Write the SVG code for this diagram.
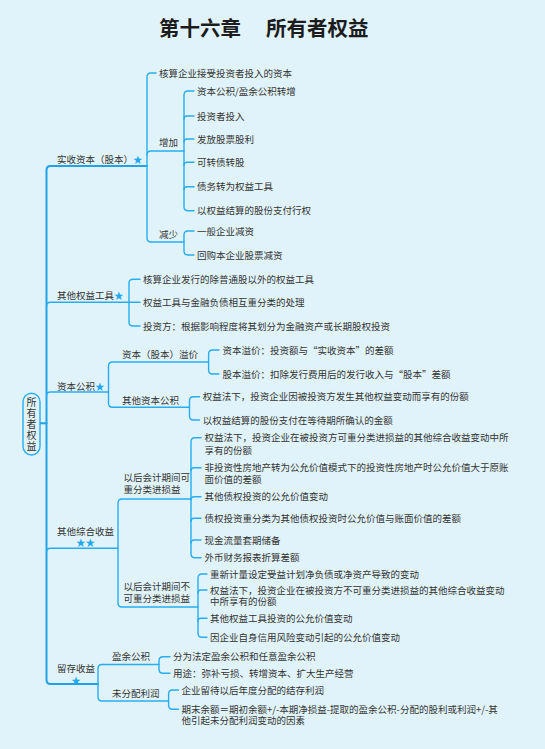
<svg xmlns="http://www.w3.org/2000/svg" width="545" height="749" viewBox="0 0 545 749">
<style>
text{font-family:"Noto Sans CJK SC","Noto Sans CJK JP",sans-serif;font-size:9.5px;fill:#333;}
.title{font-size:20.5px;font-weight:bold;fill:#1c1c1c;}
.star{fill:#1ea8ee;}
.root{font-size:10px;writing-mode:vertical-rl;letter-spacing:1px;}
.ln{fill:none;stroke:#27adf0;stroke-width:1.4;stroke-linecap:round;stroke-linejoin:round;}
.trunk{fill:none;stroke:#1fa3e8;stroke-width:2;stroke-linecap:round;}
</style>
<rect x="0" y="0" width="545" height="749" fill="#e1f3fa"/>

<g id="title">
<text class="title" x="159" y="36">第十六章</text>
<text class="title" x="266" y="36">所有者权益</text>
</g>

<g id="connectors">
<path class="trunk" d="M147,166 L50.5,166 Q46.5,166 46.5,170 L46.5,680 Q46.5,684 50.5,684 L98,684"/>
<path class="trunk" d="M40,423.3 L46.5,423.3"/>
<path class="ln" d="M46.5,306.3 Q46.5,302.3 50.5,302.3 L140,302.3"/>
<path class="ln" d="M46.5,396 Q46.5,392 50.5,392 L108.5,392"/>
<path class="ln" d="M46.5,552.3 Q46.5,548.3 50.5,548.3 L118,548.3"/>
<path class="ln" d="M156,73 L151,73 Q147,73 147,77 L147,238 Q147,242 151,242 L184,242"/>
<path class="ln" d="M147,155 Q147,151 151,151 L184,151"/>
<path class="ln" d="M194,91 L188,91 Q184,91 184,95 L184,206.7 Q184,210.7 188,210.7 L194,210.7"/>
<path class="ln" d="M184,119 Q184,116 187,116 L194,116"/>
<path class="ln" d="M184,142 Q184,139 187,139 L194,139"/>
<path class="ln" d="M184,165.3 Q184,162.3 187,162.3 L194,162.3"/>
<path class="ln" d="M184,189.7 Q184,186.7 187,186.7 L194,186.7"/>
<path class="ln" d="M194,231 L188,231 Q184,231 184,235 L184,251 Q184,255 188,255 L194,255"/>
<path class="ln" d="M140,279.3 L133,279.3 Q129,279.3 129,283.3 L129,322 Q129,326 133,326 L140,326"/>
<path class="ln" d="M208.6,362 L112.5,362 Q108.5,362 108.5,366 L108.5,403.3 Q108.5,407.3 112.5,407.3 L189.5,407.3"/>
<path class="ln" d="M219,350 L212.6,350 Q208.6,350 208.6,354 L208.6,370 Q208.6,374 212.6,374 L219,374"/>
<path class="ln" d="M199.5,396.7 L193.5,396.7 Q189.5,396.7 189.5,400.7 L189.5,416 Q189.5,420 193.5,420 L199.5,420"/>
<path class="ln" d="M191,499 L122,499 Q118,499 118,503 L118,603 Q118,607 122,607 L198,607"/>
<path class="ln" d="M201,437.7 L195,437.7 Q191,437.7 191,441.7 L191,553.7 Q191,557.7 195,557.7 L201,557.7"/>
<path class="ln" d="M191,470.7 Q191,467.7 194,467.7 L201,467.7"/>
<path class="ln" d="M191,499.7 Q191,496.7 194,496.7 L201,496.7"/>
<path class="ln" d="M191,521.3 Q191,518.3 194,518.3 L201,518.3"/>
<path class="ln" d="M191,543 Q191,540 194,540 L201,540"/>
<path class="ln" d="M207,574 L202,574 Q198,574 198,578 L198,633.3 Q198,637.3 202,637.3 L207,637.3"/>
<path class="ln" d="M198,593 Q198,590 201,590 L207,590"/>
<path class="ln" d="M198,621.3 Q198,618.3 201,618.3 L207,618.3"/>
<path class="ln" d="M159,664.5 L102,664.5 Q98,664.5 98,668.5 L98,697 Q98,701 102,701 L168.6,701"/>
<path class="ln" d="M170,656.7 L163,656.7 Q159,656.7 159,660.7 L159,669.3 Q159,673.3 163,673.3 L170,673.3"/>
<path class="ln" d="M178.5,690 L172.6,690 Q168.6,690 168.6,694 L168.6,705.3 Q168.6,709.3 172.6,709.3 L178.5,709.3"/>
</g>

<g id="root">
<rect x="23" y="393.3" width="17" height="61.7" rx="8.5" fill="#e1f3fa" stroke="#27adf0" stroke-width="1.4"/>
<text class="root" x="31.5" y="397.5">所有者权益</text>
</g>

<g id="n-shishou">
<text x="57" y="163">实收资本（股本）<tspan class="star" x="133">★</tspan></text>
</g>
<g id="n-hesuan1"><text x="159" y="76.5">核算企业接受投资者投入的资本</text></g>
<g id="n-zengjia"><text x="159" y="146">增加</text></g>
<g id="n-zj1"><text x="197" y="94.5">资本公积/盈余公积转增</text></g>
<g id="n-zj2"><text x="197" y="119.5">投资者投入</text></g>
<g id="n-zj3"><text x="197" y="142.5">发放股票股利</text></g>
<g id="n-zj4"><text x="197" y="165.8">可转债转股</text></g>
<g id="n-zj5"><text x="197" y="190.2">债务转为权益工具</text></g>
<g id="n-zj6"><text x="197" y="214.2">以权益结算的股份支付行权</text></g>
<g id="n-jianshao"><text x="159" y="237.8">减少</text></g>
<g id="n-js1"><text x="197" y="234.5">一般企业减资</text></g>
<g id="n-js2"><text x="197" y="258.5">回购本企业股票减资</text></g>

<g id="n-qitaquanyi">
<text x="57" y="299.2">其他权益工具<tspan class="star" x="114">★</tspan></text>
</g>
<g id="n-qy1"><text x="143" y="282.8">核算企业发行的除普通股以外的权益工具</text></g>
<g id="n-qy2"><text x="143" y="305.8">权益工具与金融负债相互重分类的处理</text></g>
<g id="n-qy3"><text x="143" y="329.5">投资方：根据影响程度将其划分为金融资产或长期股权投资</text></g>

<g id="n-zibengongji">
<text x="57" y="389.5">资本公积<tspan class="star" x="95">★</tspan></text>
</g>
<g id="n-yijia"><text x="122" y="357.5">资本（股本）溢价</text></g>
<g id="n-yj1"><text x="222.5" y="353.5">资本溢价：投资额与“实收资本”的差额</text></g>
<g id="n-yj2"><text x="222.5" y="377.5">股本溢价：扣除发行费用后的发行收入与“股本”差额</text></g>
<g id="n-qitazb"><text x="122" y="403.5">其他资本公积</text></g>
<g id="n-qz1"><text x="202.7" y="400.2">权益法下，投资企业因被投资方发生其他权益变动而享有的份额</text></g>
<g id="n-qz2"><text x="202.7" y="423.5">以权益结算的股份支付在等待期所确认的金额</text></g>

<g id="n-zonghe">
<text x="57" y="534.5">其他综合收益<tspan class="star" x="76" y="546.3">★★</tspan></text>
</g>
<g id="n-kechong">
<text x="123.4" y="481.2">以后会计期间可<tspan x="123.4" y="492.6">重分类进损益</tspan></text>
</g>
<g id="n-kc1">
<text x="204.4" y="441.2">权益法下，投资企业在被投资方可重分类进损益的其他综合收益变动中所<tspan x="204.4" y="453.5">享有的份额</tspan></text>
</g>
<g id="n-kc2">
<text x="204.4" y="471.2">非投资性房地产转为公允价值模式下的投资性房地产时公允价值大于原账<tspan x="204.4" y="482.8">面价值的差额</tspan></text>
</g>
<g id="n-kc3"><text x="204.4" y="500.2">其他债权投资的公允价值变动</text></g>
<g id="n-kc4"><text x="204.4" y="521.8">债权投资重分类为其他债权投资时公允价值与账面价值的差额</text></g>
<g id="n-kc5"><text x="204.4" y="543.5">现金流量套期储备</text></g>
<g id="n-kc6"><text x="204.4" y="561.2">外币财务报表折算差额</text></g>
<g id="n-bukechong">
<text x="123.4" y="589.5">以后会计期间不<tspan x="123.4" y="601.8">可重分类进损益</tspan></text>
</g>
<g id="n-bk1"><text x="210" y="577.5">重新计量设定受益计划净负债或净资产导致的变动</text></g>
<g id="n-bk2">
<text x="210" y="593.5">权益法下，投资企业在被投资方不可重分类进损益的其他综合收益变动<tspan x="210" y="604.5">中所享有的份额</tspan></text>
</g>
<g id="n-bk3"><text x="210" y="621.8">其他权益工具投资的公允价值变动</text></g>
<g id="n-bk4"><text x="210" y="640.8">因企业自身信用风险变动引起的公允价值变动</text></g>

<g id="n-liucun">
<text x="57" y="671.8">留存收益<tspan class="star" x="71.3" y="683.5">★</tspan></text>
</g>
<g id="n-yingyu"><text x="112" y="660.2">盈余公积</text></g>
<g id="n-yy1"><text x="173" y="660.2">分为法定盈余公积和任意盈余公积</text></g>
<g id="n-yy2"><text x="173" y="676.8">用途：弥补亏损、转增资本、扩大生产经营</text></g>
<g id="n-weifenpei"><text x="112" y="696.8">未分配利润</text></g>
<g id="n-wf1"><text x="181.5" y="693.5">企业留待以后年度分配的结存利润</text></g>
<g id="n-wf2">
<text x="181.5" y="712.8">期末余额＝期初余额+/-本期净损益-提取的盈余公积-分配的股利或利润+/-其<tspan x="181.5" y="724.2">他引起未分配利润变动的因素</tspan></text>
</g>
</svg>
